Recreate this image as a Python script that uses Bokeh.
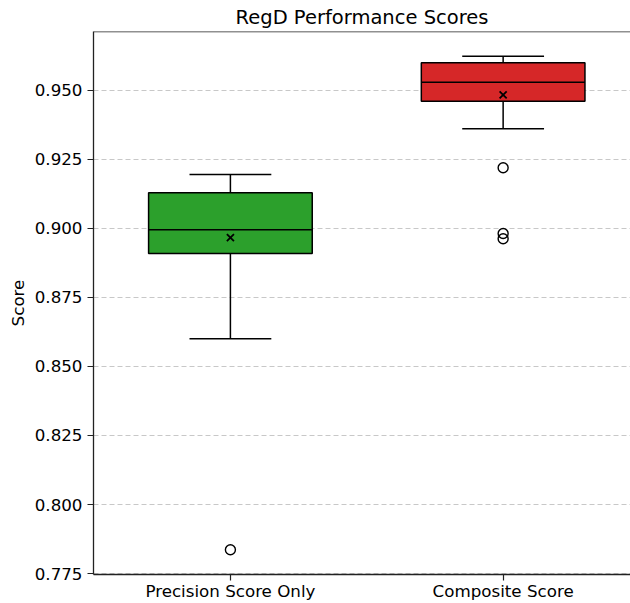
from bokeh.plotting import figure
from bokeh.models import FixedTicker, Span, NumeralTickFormatter, Range1d
from bokeh.embed import file_html
from bokeh.resources import INLINE

# Box statistics for each scoring method
categories = ["Precision Score Only", "Composite Score"]
box_colors = ["#2ca02c", "#d62728"]
q1 = [0.8909, 0.9460]
median = [0.8995, 0.9529]
q3 = [0.9129, 0.9599]
whisker_low = [0.8600, 0.9360]
whisker_high = [0.9195, 0.9623]
means = [0.8966, 0.9483]
outliers = [[0.7836], [0.9219, 0.8981, 0.8962]]
y_ticks = [0.775, 0.800, 0.825, 0.850, 0.875, 0.900, 0.925, 0.950]

FONT = "DejaVu Sans"
xs = list(range(len(categories)))
box_w = 0.6
cap_w = 0.3

# y limits: data extent padded by 5% on each side
all_vals = whisker_low + whisker_high + [v for grp in outliers for v in grp]
lo, hi = min(all_vals), max(all_vals)
pad = (hi - lo) * 0.05
y0, y1 = lo - pad, hi + pad

p = figure(
    width=630, height=603,
    x_range=Range1d(-0.502, 1.467), y_range=Range1d(y0, y1),
    output_backend="svg", toolbar_location=None,
    title="RegD Performance Scores",
    min_border_left=93, min_border_right=0, min_border_top=0, min_border_bottom=0,
)
p.background_fill_color = "white"
p.border_fill_color = "white"
p.outline_line_color = None

p.title.text_font = FONT
p.title.text_font_size = "19.5px"
p.title.text_font_style = "normal"
p.title.text_color = "black"
p.title.align = "center"
p.title.offset = 5
p.title.standoff = 6

# axes
p.xaxis.ticker = FixedTicker(ticks=xs)
p.xaxis.major_label_overrides = {i: c for i, c in enumerate(categories)}
p.yaxis.ticker = FixedTicker(ticks=y_ticks)
p.yaxis.formatter = NumeralTickFormatter(format="0.000")
p.yaxis.axis_label = "Score"
for ax in (p.xaxis[0], p.yaxis[0]):
    ax.axis_line_color = "#222222"
    ax.axis_line_width = 1.3
    ax.major_tick_line_color = "#222222"
    ax.major_tick_line_width = 1.2
    ax.major_tick_out = 6
    ax.major_tick_in = 0
    ax.minor_tick_line_color = None
    ax.major_label_text_font = FONT
    ax.major_label_text_font_size = "16.7px"
    ax.major_label_text_color = "black"
p.yaxis.major_label_standoff = 5
p.xaxis.major_label_standoff = 0
p.yaxis.axis_label_text_font = FONT
p.yaxis.axis_label_text_font_size = "16.7px"
p.yaxis.axis_label_text_font_style = "normal"
p.yaxis.axis_label_text_color = "black"
p.yaxis.axis_label_standoff = 4

p.xgrid.grid_line_color = None
p.ygrid.grid_line_color = "#c8c8c8"
p.ygrid.grid_line_dash = "5 3"
p.ygrid.grid_line_width = 1

# top spine
p.add_layout(Span(location=y1, dimension="width", line_color="#222222", line_width=1.3))

# whiskers
p.segment(x0=xs, y0=q3, x1=xs, y1=whisker_high, line_color="black", line_width=1.5)
p.segment(x0=xs, y0=whisker_low, x1=xs, y1=q1, line_color="black", line_width=1.5)
p.segment(x0=[x - cap_w / 2 for x in xs], y0=whisker_high,
          x1=[x + cap_w / 2 for x in xs], y1=whisker_high, line_color="black", line_width=1.5)
p.segment(x0=[x - cap_w / 2 for x in xs], y0=whisker_low,
          x1=[x + cap_w / 2 for x in xs], y1=whisker_low, line_color="black", line_width=1.5)

# boxes
p.vbar(x=xs, width=box_w, bottom=q1, top=q3, fill_color=box_colors,
       line_color="black", line_width=1.5)

# medians
p.segment(x0=[x - box_w / 2 for x in xs], y0=median,
          x1=[x + box_w / 2 for x in xs], y1=median, line_color="black", line_width=1.5)

# means
p.scatter(x=xs, y=means, marker="x", size=10, line_color="black", line_width=1.8)

# outliers
ox = [xs[i] for i, grp in enumerate(outliers) for _ in grp]
oy = [v for grp in outliers for v in grp]
p.scatter(x=ox, y=oy, marker="circle", size=10, fill_color=None,
          line_color="black", line_width=1.4)

open("out.html", "w").write(file_html(p, INLINE))
